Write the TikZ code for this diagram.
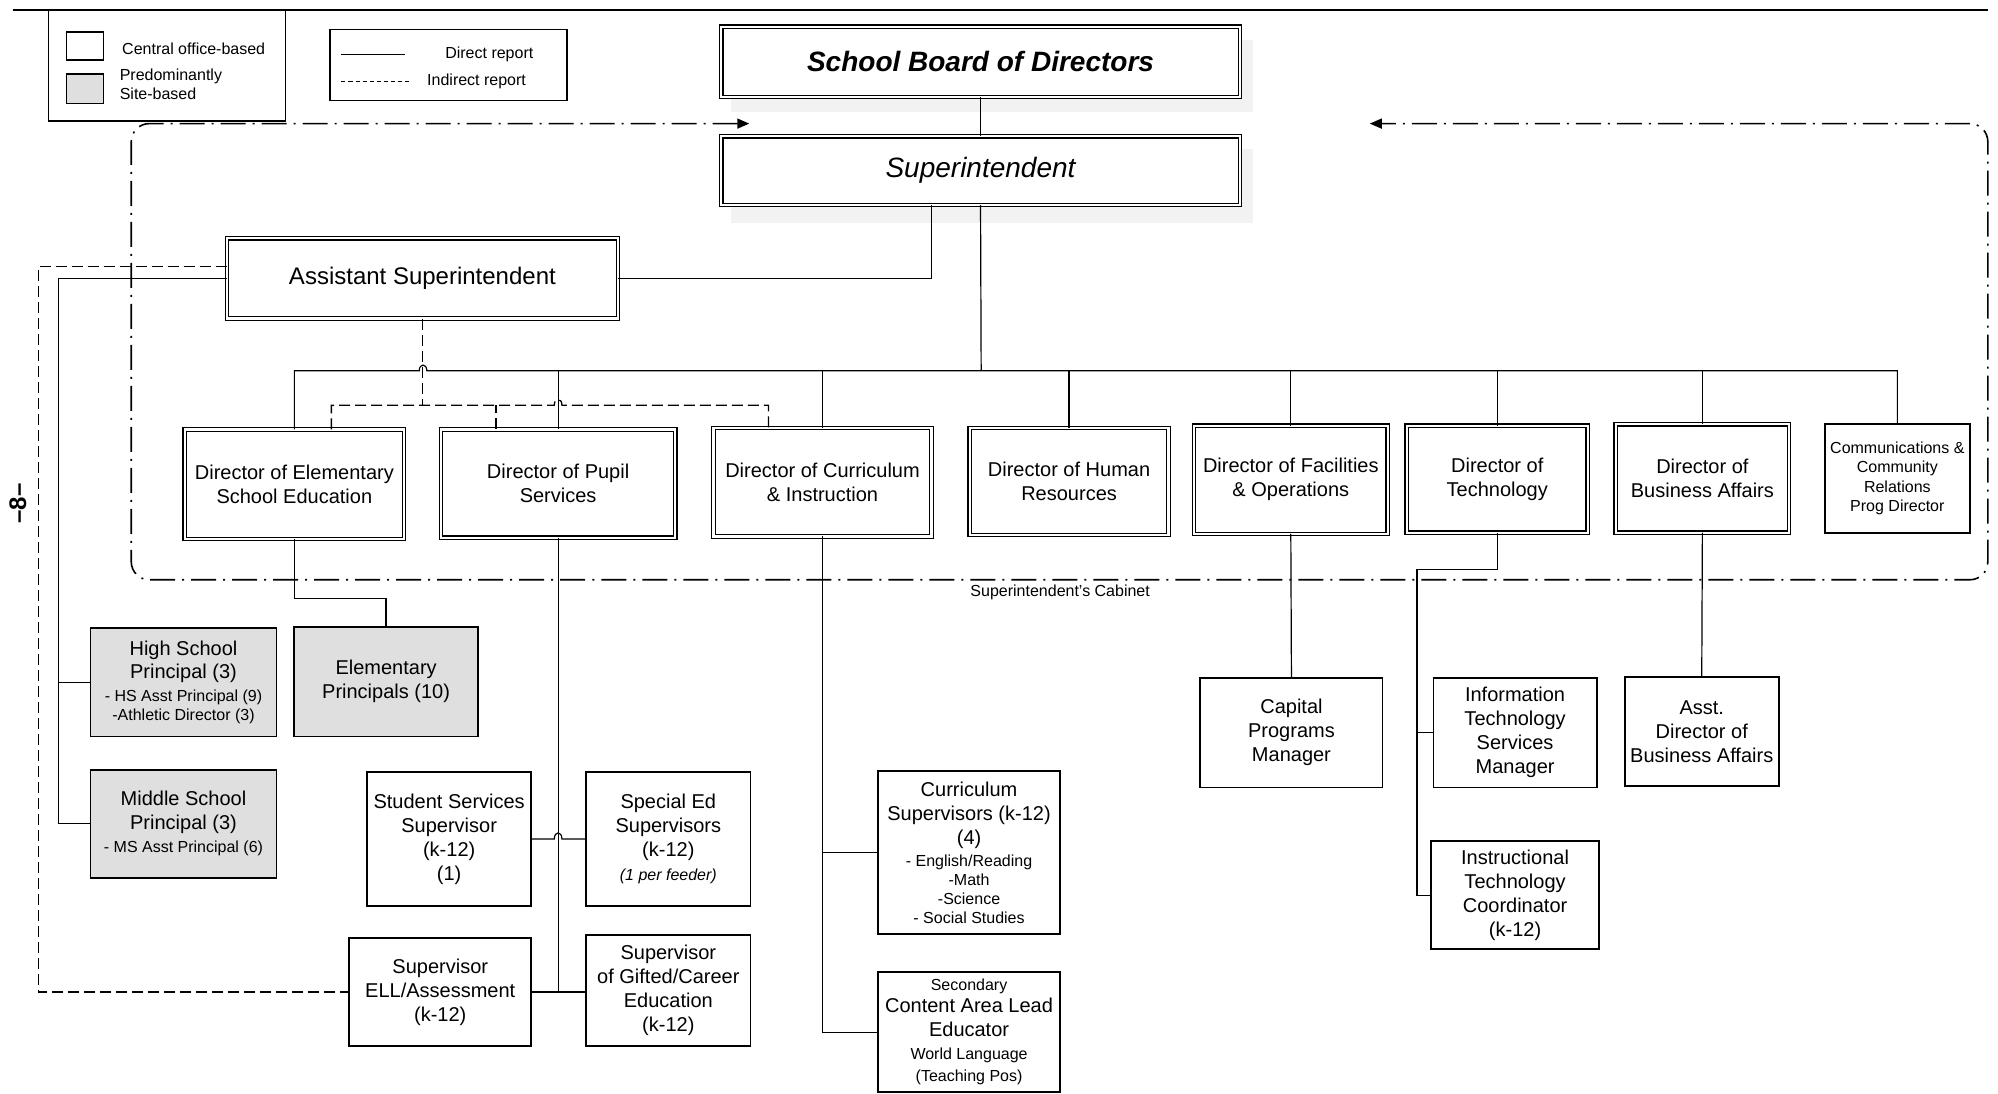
\documentclass[tikz,border=0pt]{standalone}
\usepackage{fontspec}
\setmainfont{Liberation Sans}
\usetikzlibrary{arrows.meta}
\newcommand\fz[2]{\fontsize{#1}{#2}\selectfont}
\newcommand\obox[7]{\node[#1, minimum width={(#5-#3)*1.2742pt}, minimum height={(#6-#4)*1.2742pt}] (#2) at ({(#3+#5)/2},{(#4+#6)/2}) {#7};}
\begin{document}
\begin{tikzpicture}[x=1.2742pt, y=-1.2742pt,
 base/.style={inner sep=0pt, outer sep=0pt, align=center, font=\fz{20}{24}},
 sbox/.style={base, draw, fill=white, line width=1.8pt},
 dbox/.style={base, draw, fill=white, line width=1.2pt, double, double distance=2.2pt},
 shbox/.style={base, draw, line width=1.8pt, fill=gray!25},
 lbl/.style={inner sep=0pt, outer sep=0pt, align=center, font=\fz{16}{19}},
 con/.style={line width=1.2pt},
 ind/.style={line width=1.3pt, dash pattern=on 11pt off 5pt},
 cab/.style={line width=1.6pt, dash pattern=on 25pt off 7pt on 2pt off 7pt}
]
\useasboundingbox (0,0) rectangle (1568,858);
\fill[white] (0,0) rectangle (1568,858);

% top rule
\coordinate (tl) at (10,8);
\coordinate (tr) at (1560,8);
\draw[line width=1.5pt] (tl) -- (tr);

% legends
\obox{base, draw, line width=1.4pt}{leg1}{38}{8}{224}{95}{}
\obox{base, draw, line width=1.4pt}{sq1}{52}{25}{81}{47}{}
\obox{base, draw, line width=1.4pt, fill=gray!25}{sq2}{52}{58}{81}{81}{}
\node[lbl] (tco) at (152,38) {Central office-based};
\node[lbl, align=left, anchor=west] (tsb) at (94,66) {Predominantly\\Site-based};
\obox{base, draw, line width=1.4pt}{leg2}{259}{23}{445}{79}{}
\coordinate (ls1) at (268,43); \coordinate (ls2) at (318,43);
\coordinate (ld1) at (268,64); \coordinate (ld2) at (321,64);
\draw[con] (ls1) -- (ls2);
\draw[line width=1.1pt, dash pattern=on 4pt off 3pt] (ld1) -- (ld2);
\node[lbl] (tdr) at (384,43) {Direct report};
\node[lbl] (tir) at (374,64) {Indirect report};

% cabinet boundary
\coordinate (cabL) at (588,97);
\coordinate (cabR) at (1075,97);
\draw[cab, {Triangle[length=12pt,width=10pt]}-{Triangle[length=12pt,width=10pt]}, rounded corners=18pt]
  (cabL) -- (103,97) -- (103,455) -- (1560,455) -- (1560,97) -- (cabR);
\node[lbl, fill=white, inner sep=1pt] (tcab) at (832,465) {Superintendent's Cabinet};

% page number
\node[inner sep=0pt, rotate=90, font=\fz{24}{28}\bfseries] (pg) at (14,395) {--8--};

% faint shadows
\fill[black!5] (574,31) rectangle (983,88);
\fill[black!5] (574,117) rectangle (983,175);

% top boxes
\obox{dbox, font=\fz{28}{34}\bfseries\itshape}{board}{566}{21}{973}{76}{School Board of Directors}
\obox{dbox, font=\fz{28}{34}\itshape}{supt}{566}{107}{973}{161}{Superintendent}
\obox{dbox, font=\fz{24}{29}}{asst}{178}{187}{485}{250}{Assistant Superintendent}

% directors
\obox{dbox}{elem}{145}{337}{317}{423}{Director of Elementary\\School Education}
\obox{dbox}{pupil}{346}{337}{530}{422}{Director of Pupil\\Services}
\obox{dbox}{curr}{560}{336}{731}{421}{Director of Curriculum\\\& Instruction}
\obox{dbox}{hr}{761}{336}{917}{420}{Director of Human\\Resources}
\obox{dbox}{fac}{937}{334}{1089}{419}{Director of Facilities\\\& Operations}
\obox{dbox}{tech}{1104}{334}{1246}{418}{Director of\\Technology}
\obox{dbox}{busi}{1268}{333}{1404}{418}{Director of\\Business Affairs}
\obox{sbox, font=\fz{16}{19.5}}{comm}{1432}{333}{1546}{418}{Communications \&\\Community\\Relations\\Prog Director}

% lower level
\obox{shbox}{hs}{71}{493}{217}{578}{High School\\[-1pt]Principal (3)\\[-1pt]\fz{16}{24}- HS Asst Principal (9)\\[-5pt]\fz{16}{24}-Athletic Director (3)}
\obox{shbox}{ep}{231}{492}{375}{578}{Elementary\\Principals (10)}
\obox{shbox}{ms}{71}{604}{217}{689}{Middle School\\Principal (3)\\[-1pt]\fz{16}{24}- MS Asst Principal (6)}
\obox{sbox}{ss}{288}{606}{417}{711}{Student Services\\Supervisor\\(k-12)\\(1)}
\obox{sbox}{sped}{460}{606}{589}{711}{Special Ed\\Supervisors\\(k-12)\\\fz{16}{24}\itshape (1 per feeder)}
\obox{sbox}{ell}{274}{736}{417}{821}{Supervisor\\ELL/Assessment\\(k-12)}
\obox{sbox}{gift}{460}{734}{589}{821}{Supervisor\\of Gifted/Career\\Education\\(k-12)}
\obox{sbox}{cs}{689}{605}{832}{733}{Curriculum\\Supervisors (k-12)\\(4)\\[-2pt]\fz{16}{24}- English/Reading\\[-5pt]\fz{16}{24}-Math\\[-5pt]\fz{16}{24}-Science\\[-5pt]\fz{16}{24}- Social Studies}
\obox{sbox}{sec}{689}{763}{832}{857}{\fz{16}{24}Secondary\\[-2pt]\fz{20}{24}Content Area Lead\\\fz{20}{24}Educator\\[-1pt]\fz{16}{24}World Language\\[-2pt]\fz{16}{24}(Teaching Pos)}
\obox{sbox}{cap}{942}{532}{1085}{618}{Capital\\Programs\\Manager}
\obox{sbox}{its}{1125}{532}{1253}{618}{Information\\Technology\\Services\\Manager}
\obox{sbox}{itc}{1123}{660}{1255}{745}{Instructional\\Technology\\Coordinator\\(k-12)}
\obox{sbox}{abus}{1275}{531}{1396}{617}{Asst.\\Director of\\Business Affairs}

% connectors
\coordinate (bus) at (770,291);
\draw[con] (board.south) -- (supt.north);
\draw[con] (supt.south) -- (bus);
\draw[con] (elem.north) |- (329,291) .. controls (329,285) and (335,285) .. (335,291) -| (comm.north);
\foreach \n in {pupil,curr,hr,fac,tech,busi} \draw[con] (\n.north) -- (\n.north |- bus);
\draw[con] (asst.east) -| ([xshift=-49pt]supt.south);

\coordinate (dj) at (332,318);
\draw[ind] (asst.south) -- (asst.south |- dj);
\draw[ind] ([xshift=37pt]elem.north) |- (435,318) .. controls (435,312) and (441,312) .. (441,318) -| ([xshift=-54pt]curr.north);
\draw[ind] ([xshift=-62pt]pupil.north) -- ([xshift=-62pt]pupil.north |- dj);

\coordinate (lv) at (46,218);
\draw[con] (asst.west) -- (lv |- asst.west) |- (ms.west);
\draw[con] (lv |- hs.west) -- (hs.west);
\coordinate (dl) at (30,500);
\draw[ind] ([yshift=12pt]asst.west) -| (dl) |- (ell.west);

\coordinate (ej) at (303,470);
\draw[con] (elem.south) |- (ej) -- (ep.north);

\draw[con] (pupil.south) -- (pupil.south |- ell.east);
\draw[con] (ell.east) -- (ell.east -| gift.west);
\draw[con] (ss.east) -- (435,658.5) .. controls (435,652) and (441,652) .. (441,658.5) -- (sped.west);

\draw[con] (curr.south) |- (sec.west);
\draw[con] (curr.south |- cs.west) -- (cs.west);
\draw[con] (fac.south) -- (cap.north);
\coordinate (tj) at (1112,447);
\draw[con] (tech.south) |- (tj) |- (itc.west);
\draw[con] (tj |- its.west) -- (its.west);
\draw[con] (busi.south) -- (abus.north);
\end{tikzpicture}
\end{document}
